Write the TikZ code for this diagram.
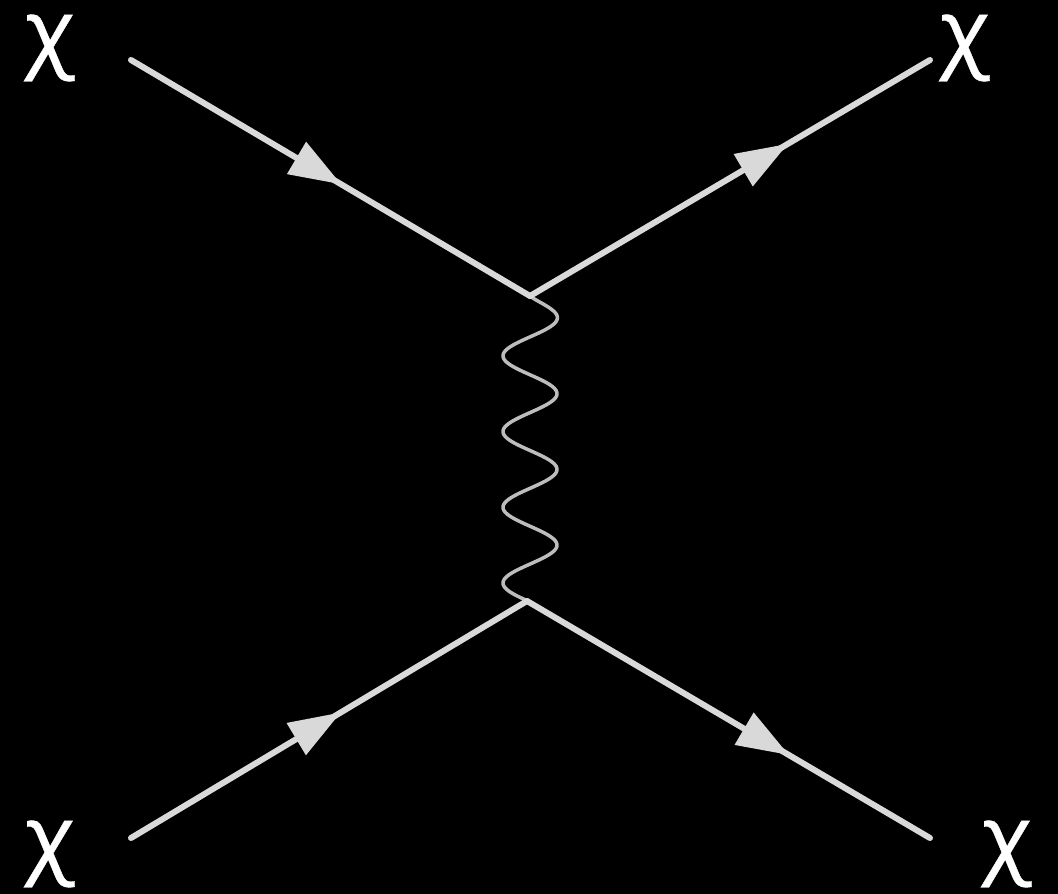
\documentclass[tikz,border=0pt]{standalone}
\usepackage{fontspec}
\setmainfont[FakeStretch=1.08,FakeBold=0.4]{Open Sans}
\usetikzlibrary{decorations.markings,arrows.meta,calc}
\definecolor{linegrey}{HTML}{D9D9D9}
\definecolor{wavegrey}{HTML}{BDBDBD}
\tikzset{
  fermion/.style={draw=linegrey,line width=6pt,line cap=round,
    postaction={decorate,decoration={markings,
      mark=at position #1 with {\arrow[linegrey]{Triangle[length=52pt,width=36pt]}}}}},
  boson/.style={draw=wavegrey,line width=3.5pt,line join=round},
  chilabel/.style={text=white,font=\fontsize{86}{86}\selectfont,inner sep=0pt,anchor=center}
}
\begin{document}
\begin{tikzpicture}[x=1pt,y=-1pt]
\fill[black] (0,0) rectangle (1058,894);
\useasboundingbox (0,0) rectangle (1058,894);
\coordinate (a) at (131,60);
\coordinate (b) at (930,60);
\coordinate (c) at (131,838);
\coordinate (d) at (930,838);
\coordinate (u) at (530,296);
\coordinate (l) at (527,601);
\draw[boson] let \p1=(u),\p2=(l) in plot[domain=0:1,samples=301,variable=\t]
  ({\x1+(\x2-\x1)*\t+(3*\t+27*sin(1450*(\t-.072)+90)+6.7*exp(-40*\t))*1pt},{\y1+(\y2-\y1)*\t});
\path[fermion=.527] (a) -- (u);
\path[fermion=.645] (u) -- (b);
\path[fermion=.53] (c) -- (l);
\path[fermion=.65] (l) -- (d);
\node[chilabel] (tl) at (50,48) {χ};
\node[chilabel] (tr) at (965,48) {χ};
\node[chilabel] (bl) at (50,854) {χ};
\node[chilabel] (br) at (1007,854) {χ};
\end{tikzpicture}
\end{document}
